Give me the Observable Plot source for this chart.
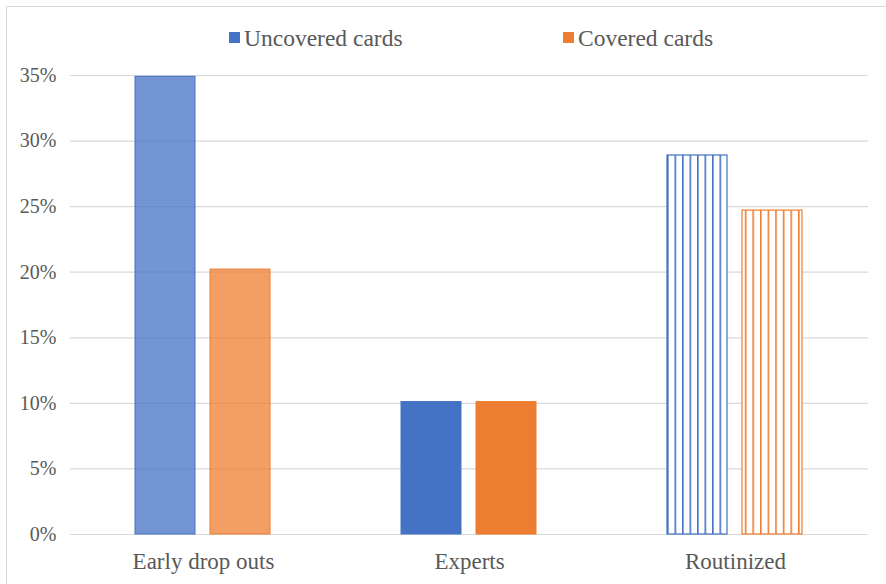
<!DOCTYPE html>
<html>
<head>
<meta charset="utf-8">
<script src="https://cdn.jsdelivr.net/npm/d3@7"></script>
<script src="https://cdn.jsdelivr.net/npm/@observablehq/plot@0.6"></script>
<style>
  html, body { margin: 0; padding: 0; background: #fff; }
  #wrap { position: relative; width: 886px; height: 584px; overflow: hidden; font-family: "Liberation Serif", "Times New Roman", Times, "DejaVu Serif", serif; }
  #frame { position: absolute; left: 6px; top: 6px; width: 900px; height: 600px; border: 1px solid #d9d9d9; box-sizing: border-box; pointer-events: none; }
  #legend { position: relative; height: 55px; }
  .lg { position: absolute; top: 24px; font-size: 23.5px; color: #595959; line-height: 28px; white-space: nowrap; }
  .sw { position: absolute; top: 32px; width: 11px; height: 11px; }
  svg { display: block; }
  #chart svg, #chart svg text { font-family: "Liberation Serif", "Times New Roman", Times, "DejaVu Serif", serif !important; }
  #chart g[aria-label^="fx-axis"] text { font-size: 23px; }
</style>
</head>
<body>
<div id="wrap">
  <div id="frame"></div>
  <div id="legend"></div>
  <div id="chart"></div>
</div>
<script>
const categories = ["Early drop outs", "Experts", "Routinized"];
const seriesNames = ["Uncovered cards", "Covered cards"];
const uncovered = [0.349, 0.101, 0.289];
const covered = [0.202, 0.101, 0.247];
const yTicks = [0, 0.05, 0.10, 0.15, 0.20, 0.25, 0.30, 0.35];
const colors = ["#4472C4", "#ED7D31"];

const data = [];
categories.forEach((c, i) => {
  data.push({category: c, series: seriesNames[0], value: uncovered[i]});
  data.push({category: c, series: seriesNames[1], value: covered[i]});
});

// Legend
const legend = document.getElementById("legend");
const legendX = [229, 563];
seriesNames.forEach((s, i) => {
  const sw = document.createElement("div");
  sw.className = "sw";
  sw.style.left = legendX[i] + "px";
  sw.style.background = colors[i];
  legend.appendChild(sw);
  const t = document.createElement("div");
  t.className = "lg";
  t.style.left = (legendX[i] + 15) + "px";
  t.textContent = s;
  legend.appendChild(t);
});

const byCat = c => data.filter(d => d.category === c);
const colorOf = d => colors[seriesNames.indexOf(d.series)];

const chart = Plot.plot({
  width: 886,
  height: 529,
  marginTop: 20,
  marginBottom: 50,
  marginLeft: 70,
  marginRight: 18,
  style: {fontSize: "20px", color: "#595959", background: "transparent"},
  fx: {domain: categories, padding: 0, label: null, axis: "bottom", tickSize: 0, tickPadding: 18},
  x: {domain: seriesNames, paddingInner: 0.197, paddingOuter: 0.849, axis: null},
  y: {domain: [0, 0.35], ticks: yTicks, tickFormat: d3.format(".0%"), label: null, tickSize: 0, tickPadding: 14},
  marks: [
    Plot.gridY(yTicks, {stroke: "#d9d9d9", strokeOpacity: 1, strokeWidth: 1.2}),
    Plot.barY(byCat("Early drop outs"), {fx: "category", x: "series", y: "value", fill: colorOf, fillOpacity: 0.75, stroke: colorOf, strokeWidth: 1}),
    Plot.barY(byCat("Experts"), {fx: "category", x: "series", y: "value", fill: colorOf, stroke: colorOf, strokeWidth: 1}),
    Plot.barY(byCat("Routinized"), {fx: "category", x: "series", y: "value",
      fill: d => d.series === seriesNames[0] ? "url(#stripeBlue)" : "url(#stripeOrange)",
      stroke: colorOf, strokeWidth: 1.2})
  ]
});

// stripe patterns
const ns = "http://www.w3.org/2000/svg";
const defs = document.createElementNS(ns, "defs");
[["stripeBlue", colors[0], 7.5], ["stripeOrange", colors[1], 7.6]].forEach(([id, col, w]) => {
  const p = document.createElementNS(ns, "pattern");
  p.setAttribute("id", id);
  p.setAttribute("patternUnits", "userSpaceOnUse");
  p.setAttribute("width", w);
  p.setAttribute("height", 10);
  const bg = document.createElementNS(ns, "rect");
  bg.setAttribute("width", w); bg.setAttribute("height", 10); bg.setAttribute("fill", "#fff");
  p.appendChild(bg);
  const r = document.createElementNS(ns, "rect");
  r.setAttribute("x", 0); r.setAttribute("width", 1.6); r.setAttribute("height", 10); r.setAttribute("fill", col);
  p.appendChild(r);
  defs.appendChild(p);
});
chart.insertBefore(defs, chart.firstChild);
document.getElementById("chart").appendChild(chart);
</script>
</body>
</html>
